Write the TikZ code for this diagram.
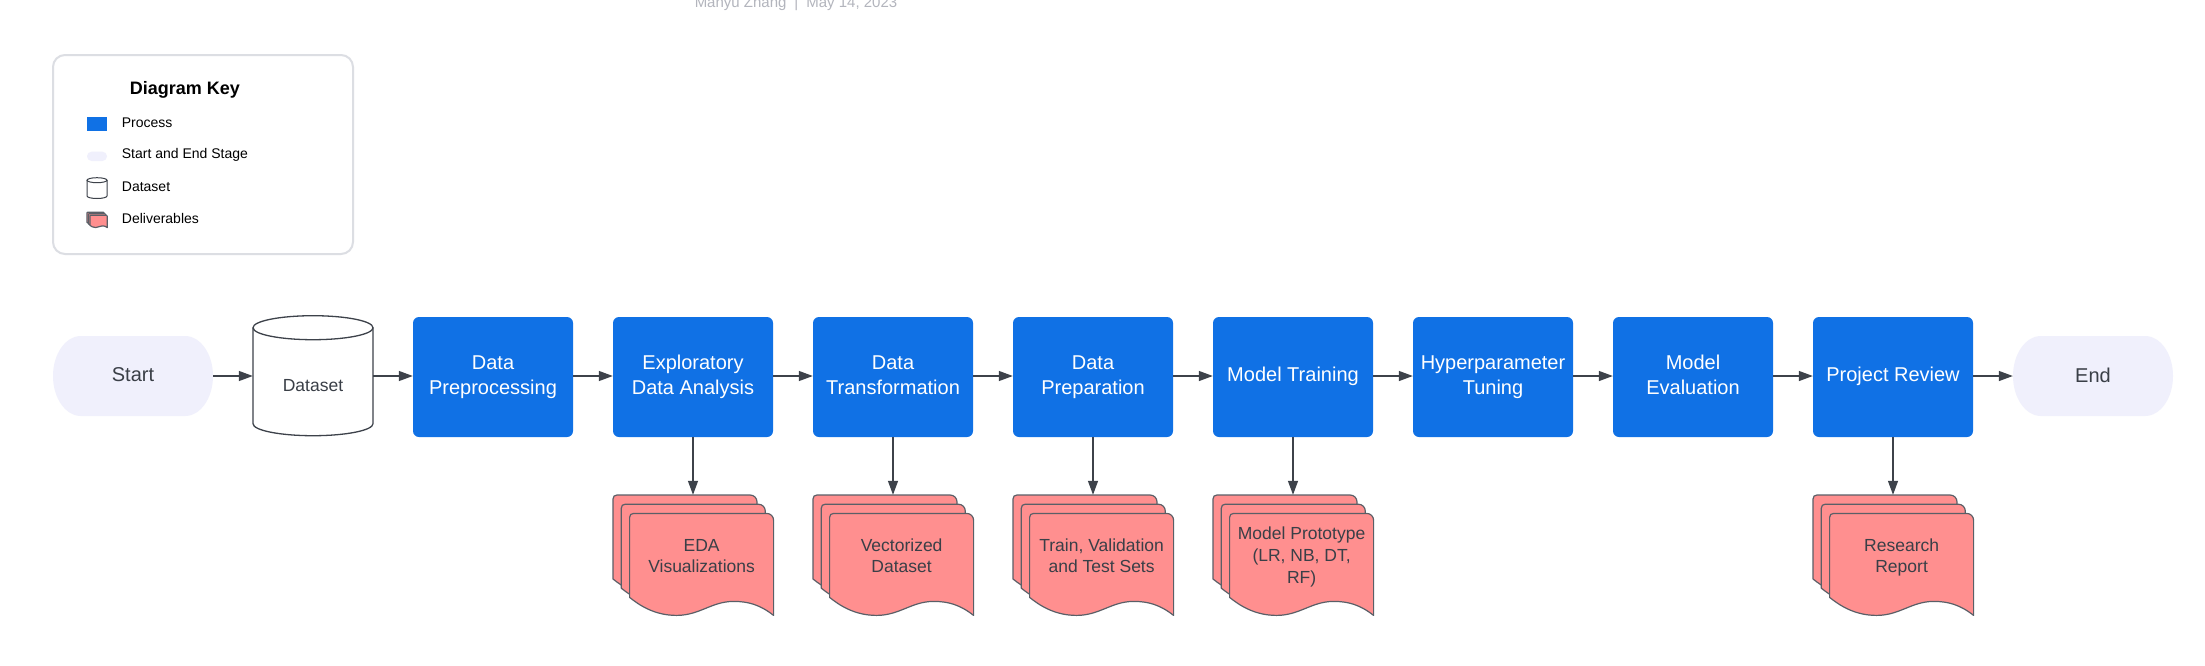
\documentclass[tikz,border=0pt]{standalone}
\usepackage{fontspec}
\setmainfont{Liberation Sans}
\usetikzlibrary{arrows.meta}
\definecolor{procblue}{HTML}{1071E5}
\definecolor{pillfill}{HTML}{F0F0FC}
\definecolor{delivpink}{HTML}{FF8F8F}
\definecolor{linegray}{HTML}{3D424A}
\definecolor{docedge}{HTML}{5A5F67}
\definecolor{keyedge}{HTML}{DCDEE3}
\definecolor{headgray}{HTML}{B3B5BD}
\definecolor{doctext}{HTML}{3A3F47}
\tikzset{
  proc/.style={rectangle, rounded corners=6pt, fill=procblue, minimum width=160pt, minimum height=120pt, inner sep=0pt, text=white, align=center, font=\fontsize{20}{24.3}\selectfont},
  terminal/.style={rectangle, minimum width=160pt, minimum height=80pt, inner sep=0pt, text=doctext, font=\fontsize{20}{24}\selectfont},
  holder/.style={rectangle, inner sep=0pt},
  arr/.style={draw=linegray, line width=1.3pt, -{Triangle[length=14pt,width=10pt]}},
  docpaper/.style={fill=delivpink, draw=docedge, line width=1.2pt, line join=round},
  delivtext/.style={align=center, text=doctext, font=\fontsize{17.5}{21.7}\selectfont},
  keytext/.style={anchor=west, inner sep=0pt, font=\fontsize{14}{16}\selectfont},
  docpage/.pic={
    \path[docpaper] (0,84) -- (0,4) .. controls (0,1.5) and (1.5,0) .. (4,0) -- (137,0) .. controls (141,0) and (144,3) .. (144,7) -- (144,102) .. controls (130,91) and (118,88) .. (104,88) .. controls (82,88) and (70,102) .. (47,102) .. controls (25,102) and (10,92) .. (0,84) -- cycle;
  },
  docstack/.pic={
    \pic at (0,0) {docpage};
    \pic at (8.3,9.2) {docpage};
    \pic at (16.6,18.4) {docpage};
  },
}
\begin{document}
\begin{tikzpicture}[x=1pt,y=-1pt]
\useasboundingbox (0,0) rectangle (2205,665);
\fill[white] (0,0) rectangle (2205,665);

% header
\node[anchor=base, inner sep=0pt, text=headgray, font=\fontsize{15}{18}\selectfont] (header) at (796,7) {Manyu Zhang\hspace{8pt}|\hspace{8pt}May 14, 2023};

% legend
\draw[keyedge, line width=2pt, rounded corners=12pt, fill=white] (53,55) rectangle (353,254);
\node[font=\bfseries\fontsize{18}{20}\selectfont, inner sep=0pt] (keytitle) at (185,90) {Diagram Key};
\fill[procblue] (87.3,116.7) rectangle (106.7,131);
\node[keytext] (kproc) at (121.7,122.3) {Process};
\fill[pillfill, rounded corners=4.6pt] (87,151.7) rectangle (107,161);
\node[keytext] (kterm) at (121.7,155) {Start and End Stage};
\draw[linegray, line width=1pt, fill=white] (87,180.2) -- (87,196) arc[start angle=180,end angle=0,x radius=10,y radius=2.5] -- (107,180.2);
\draw[linegray, line width=1pt, fill=white] (97,180.2) ellipse[x radius=10, y radius=2.5];
\node[keytext] (kdata) at (121.7,186.5) {Dataset};
\pic[scale=0.12] at (87,212.3) {docpage};
\pic[scale=0.12] at (88.5,213.8) {docpage};
\pic[scale=0.12] at (90,215.3) {docpage};
\node[keytext] (kdeliv) at (121.7,218.3) {Deliverables};

% start / end pills
\fill[pillfill] (81,336) -- (185,336) arc[start angle=-90,end angle=90,x radius=28,y radius=40] -- (81,416) arc[start angle=90,end angle=270,x radius=28,y radius=40] -- cycle;
\node[terminal] (start) at (133,376) {\raisebox{2pt}{Start}};
\fill[pillfill] (2041,336) -- (2145,336) arc[start angle=-90,end angle=90,x radius=28,y radius=40] -- (2041,416) arc[start angle=90,end angle=270,x radius=28,y radius=40] -- cycle;
\node[terminal] (end) at (2093,376) {\raisebox{2pt}{End}};

% dataset cylinder
\draw[linegray, line width=1.3pt, fill=white] (253,327.7) -- (253,423.7) arc[start angle=180,end angle=0,x radius=60,y radius=12] -- (373,327.7);
\draw[linegray, line width=1.3pt, fill=white] (313,327.7) ellipse[x radius=60, y radius=12];
\node[holder, minimum width=120pt, minimum height=120pt] (dataset) at (313,376) {};
\node[delivtext, inner sep=0pt] (datasettext) at (313,386) {Dataset};

% process boxes
\node[proc] (b1) at (493,377) {\strut Data\\\strut Preprocessing};
\node[proc] (b2) at (693,377) {\strut Exploratory\\\strut Data Analysis};
\node[proc] (b3) at (893,377) {\strut Data\\\strut Transformation};
\node[proc] (b4) at (1093,377) {\strut Data\\\strut Preparation};
\node[proc] (b5) at (1293,377) {\strut Model Training};
\node[proc] (b6) at (1493,377) {\strut Hyperparameter\\\strut Tuning};
\node[proc] (b7) at (1693,377) {\strut Model\\\strut Evaluation};
\node[proc] (b8) at (1893,377) {\strut Project Review};

% deliverable stacks
\pic at (613,495) {docstack};
\pic at (813,495) {docstack};
\pic at (1013,495) {docstack};
\pic at (1213,495) {docstack};
\pic at (1813,495) {docstack};
\node[holder, minimum width=160pt, minimum height=121pt] (d1) at (693,555.5) {};
\node[holder, minimum width=160pt, minimum height=121pt] (d2) at (893,555.5) {};
\node[holder, minimum width=160pt, minimum height=121pt] (d3) at (1093,555.5) {};
\node[holder, minimum width=160pt, minimum height=121pt] (d4) at (1293,555.5) {};
\node[holder, minimum width=160pt, minimum height=121pt] (d5) at (1893,555.5) {};
\node[delivtext] (t1) at (701.6,557.5) {\strut EDA\\\strut Visualizations};
\node[delivtext] (t2) at (901.6,557.5) {\strut Vectorized\\\strut Dataset};
\node[delivtext] (t3) at (1101.6,557.5) {\strut Train, Validation\\\strut and Test Sets};
\node[delivtext] (t4) at (1301.6,557) {\strut Model Prototype\\\strut (LR, NB, DT,\\\strut RF)};
\node[delivtext] (t5) at (1901.6,557.5) {\strut Research\\\strut Report};

% connectors
\draw[arr] (start.east) -- (dataset.west);
\draw[arr] (dataset.east) -- (b1.west |- dataset.east);
\draw[arr] (b1.east |- start.east) -- (b2.west |- start.east);
\draw[arr] (b2.east |- start.east) -- (b3.west |- start.east);
\draw[arr] (b3.east |- start.east) -- (b4.west |- start.east);
\draw[arr] (b4.east |- start.east) -- (b5.west |- start.east);
\draw[arr] (b5.east |- start.east) -- (b6.west |- start.east);
\draw[arr] (b6.east |- start.east) -- (b7.west |- start.east);
\draw[arr] (b7.east |- start.east) -- (b8.west |- start.east);
\draw[arr] (b8.east |- start.east) -- (end.west);
\draw[arr] (b2.south) -- (d1.north);
\draw[arr] (b3.south) -- (d2.north);
\draw[arr] (b4.south) -- (d3.north);
\draw[arr] (b5.south) -- (d4.north);
\draw[arr] (b8.south) -- (d5.north);
\end{tikzpicture}
\end{document}
